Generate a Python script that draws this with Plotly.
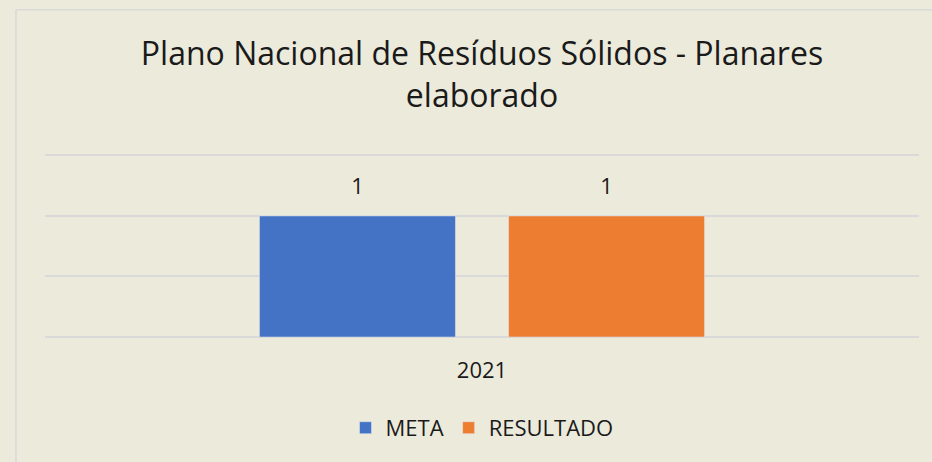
import plotly.graph_objects as go

categories = ["2021"]
meta = [1]
resultado = [1]
series_names = ["META", "RESULTADO"]
title_text = "Plano Nacional de Resíduos Sólidos - Planares<br>elaborado"

BG = "#ECEADA"
FONT = "Open Sans"
TXT = "#1a1a1a"
COLORS = ["#4472C4", "#ED7D31"]

fig = go.Figure()
for name, vals, col in zip(series_names, [meta, resultado], COLORS):
    fig.add_trace(go.Bar(name=name, x=categories, y=vals, marker_color=col))
for name, vals in zip(series_names, [meta, resultado]):
    fig.add_trace(go.Scatter(x=categories, y=vals, mode="markers+text", text=[str(v) for v in vals],
                             textposition="top center",
                             marker=dict(size=24, color="rgba(0,0,0,0)"),
                             textfont=dict(size=22, family=FONT, color=TXT),
                             showlegend=False, hoverinfo="skip", cliponaxis=False))

fig.update_layout(
    width=932, height=462,
    paper_bgcolor=BG, plot_bgcolor=BG,
    font=dict(family=FONT, color=TXT),
    margin=dict(l=45, r=13, t=153, b=125),
    barmode="group", bargap=0.43, bargroupgap=0.213,
    scattermode="group", scattergap=0.43,
    title=dict(text=title_text, xref="paper", x=0.5, xanchor="center", y=0.859, yanchor="top",
               yref="container", font=dict(size=32, family=FONT, color=TXT)),
    showlegend=True,
    legend=dict(orientation="h", x=0.5, xanchor="center", y=-0.494, yanchor="middle",
                font=dict(size=22, family=FONT, color=TXT), bgcolor="rgba(0,0,0,0)",
                itemwidth=30),
    xaxis=dict(showgrid=False, showline=False, zeroline=False, ticks="",
               tickfont=dict(size=22, family=FONT, color=TXT), ticklabelstandoff=18),
    yaxis=dict(range=[0, 1.52], tickvals=[0, 0.5, 1, 1.5], showticklabels=False,
               showgrid=True, gridcolor="#D9D9D9", gridwidth=1.5,
               zeroline=True, zerolinecolor="#D9D9D9", zerolinewidth=1.5),
    shapes=[
        dict(type="line", xref="paper", yref="paper", x0=-0.0332, x1=1.05, y0=1.778, y1=1.778,
             line=dict(color="#D9D9D9", width=1.5)),
        dict(type="line", xref="paper", yref="paper", x0=-0.0332, x1=-0.0332, y0=1.778, y1=-0.8,
             line=dict(color="#D9D9D9", width=1.5)),
    ],
)

fig.write_html("out.html", config={"displayModeBar": False},
               post_script="document.body.style.margin='0';document.body.style.background='#ECEADA';")
